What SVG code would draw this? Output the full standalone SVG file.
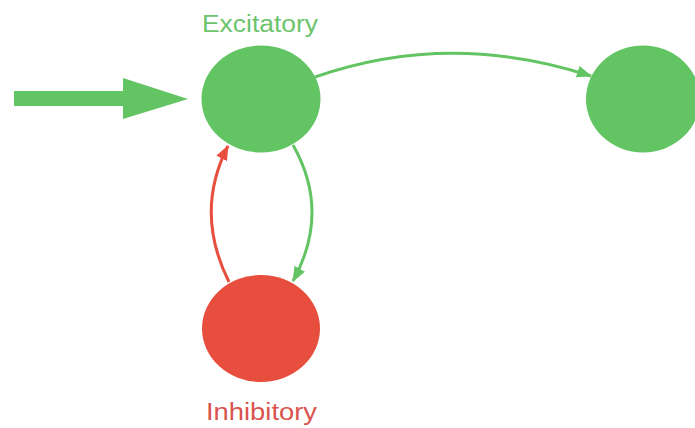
<svg xmlns="http://www.w3.org/2000/svg" width="695" height="428" viewBox="0 0 695 428">
  <style>
    .exc { fill: #63c463; }
    .inh { fill: #e84e3d; }
    .label { font-family: "Liberation Sans", Arial, sans-serif; font-size: 23px; text-anchor: middle; }
    .edge { fill: none; stroke-width: 3; }
    .edge-exc { stroke: #63c463; }
    .edge-inh { stroke: #e84e3d; }
  </style>
  <defs>
    <marker id="head-exc" viewBox="0 0 15 12" refX="14" refY="6" markerWidth="15" markerHeight="12" markerUnits="userSpaceOnUse" orient="auto">
      <path d="M0,0 L15,6 L0,12 Z" fill="#63c463"/>
    </marker>
    <marker id="head-inh" viewBox="0 0 15 12" refX="14" refY="6" markerWidth="15" markerHeight="12" markerUnits="userSpaceOnUse" orient="auto">
      <path d="M0,0 L15,6 L0,12 Z" fill="#e84e3d"/>
    </marker>
  </defs>

  <rect width="695" height="428" fill="#ffffff"/>

  <!-- external input -->
  <g id="input">
    <path class="exc" d="M14,91 L123,91 L123,78 L188,99 L123,119 L123,106 L14,106 Z"/>
  </g>

  <g id="connectors">
    <path class="edge edge-exc" d="M315,77 Q450,30 591,76" marker-end="url(#head-exc)"/>
    <path class="edge edge-exc" d="M293,145 Q331,212 293,281" marker-end="url(#head-exc)"/>
    <path class="edge edge-inh" d="M229,282 Q194,212 228,146" marker-end="url(#head-inh)"/>
  </g>

  <g id="excitatory">
    <ellipse class="exc" cx="261" cy="99" rx="59.5" ry="53.5"/>
    <text class="label" x="260" y="32" fill="#6cc46c" textLength="116" lengthAdjust="spacingAndGlyphs">Excitatory</text>
  </g>

  <g id="target">
    <ellipse class="exc" cx="643" cy="99" rx="57" ry="53.5"/>
  </g>

  <g id="inhibitory">
    <ellipse class="inh" cx="261" cy="328.5" rx="59" ry="53.5"/>
    <text class="label" x="261.5" y="420" fill="#d9534f" textLength="111" lengthAdjust="spacingAndGlyphs">Inhibitory</text>
  </g>
</svg>
